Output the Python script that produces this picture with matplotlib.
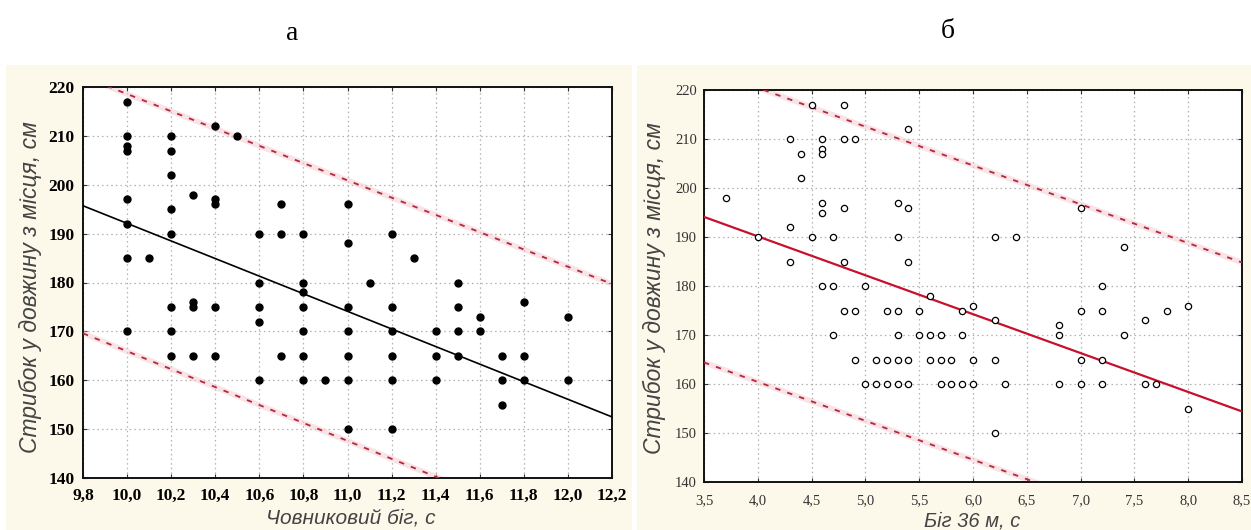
import matplotlib
matplotlib.use("Agg")
import matplotlib.pyplot as plt
from matplotlib.patches import Rectangle
from matplotlib.ticker import FuncFormatter
import numpy as np

# ---------------- data: panel а (shuttle run vs standing long jump) ----------------
shuttle_x = [10.0]*8 + [10.1] + [10.2]*8 + [10.3]*4 + [10.4]*5 + [10.5] + [10.6]*5 + \
            [10.7]*3 + [10.8]*7 + [10.9] + [11.0]*7 + [11.1] + [11.2]*6 + [11.3] + \
            [11.4]*3 + [11.5]*4 + [11.6]*2 + [11.7]*3 + [11.8]*3 + [12.0]*2
jump_a = [217, 210, 208, 207, 197, 192, 185, 170,
          185,
          210, 207, 202, 195, 190, 175, 170, 165,
          198, 176, 175, 165,
          212, 197, 196, 175, 165,
          210,
          190, 180, 175, 172, 160,
          196, 190, 165,
          190, 180, 178, 175, 170, 165, 160,
          160,
          196, 188, 175, 170, 165, 160, 150,
          180,
          190, 175, 170, 165, 160, 150,
          185,
          170, 165, 160,
          180, 175, 170, 165,
          173, 170,
          165, 160, 155,
          176, 165, 160,
          173, 160]

fit_a_x = [9.8, 12.2]
fit_a_y = [195.7, 152.5]
upper_a_y = [222.1, 179.7]
lower_a_y = [169.6, 125.6]

# ---------------- data: panel б (36 m run vs standing long jump) ----------------
run_x = [3.7, 4.0] + [4.3]*3 + [4.4]*2 + [4.5]*2 + [4.6]*6 + [4.7]*3 + [4.8]*5 + \
        [4.9]*3 + [5.0]*2 + [5.1]*2 + [5.2]*3 + [5.3]*6 + [5.4]*5 + [5.5]*2 + \
        [5.6]*3 + [5.7]*3 + [5.8]*2 + [5.9]*3 + [6.0]*3 + [6.2]*4 + [6.3] + [6.4] + \
        [6.8]*3 + [7.0]*4 + [7.2]*4 + [7.4]*2 + [7.6]*2 + [7.7] + [7.8] + [8.0]*2
jump_b = [198, 190,
          210, 192, 185,
          207, 202,
          217, 190,
          210, 208, 207, 197, 195, 180,
          190, 180, 170,
          217, 210, 196, 185, 175,
          210, 175, 165,
          180, 160,
          165, 160,
          175, 165, 160,
          197, 190, 175, 170, 165, 160,
          212, 196, 185, 165, 160,
          175, 170,
          178, 170, 165,
          170, 165, 160,
          165, 160,
          175, 170, 160,
          176, 165, 160,
          190, 173, 165, 150,
          160,
          190,
          172, 170, 160,
          196, 175, 165, 160,
          180, 175, 165, 160,
          188, 170,
          173, 160,
          160,
          175,
          176, 155]

fit_b_x = [3.5, 8.5]
fit_b_y = [194.1, 154.4]
upper_b_y = [224.4, 184.8]
lower_b_y = [164.4, 124.7]

xticks_a = [9.8, 10.0, 10.2, 10.4, 10.6, 10.8, 11.0, 11.2, 11.4, 11.6, 11.8, 12.0, 12.2]
xticks_b = [3.5, 4.0, 4.5, 5.0, 5.5, 6.0, 6.5, 7.0, 7.5, 8.0, 8.5]
yticks = [140, 150, 160, 170, 180, 190, 200, 210, 220]

ylabel_text = "Стрибок у довжину з місця, см"
xlabel_a = "Човниковий біг, с"
xlabel_b = "Біг 36 м, с"

# ---------------- figure ----------------
W, H = 1251, 530
fig = plt.figure(figsize=(W/100, H/100), dpi=100)
fig.patch.set_facecolor("white")

cream = "#fcf8ea"
fig.add_artist(Rectangle((6/W, 0), (632-6)/W, (H-65)/H, transform=fig.transFigure,
                         facecolor=cream, edgecolor="none", zorder=0))
fig.add_artist(Rectangle((637/W, 0), (W-637)/W, (H-65)/H, transform=fig.transFigure,
                         facecolor=cream, edgecolor="none", zorder=0))

fig.text(292/W, 1-33/H, "а", fontsize=20, family="Liberation Serif", ha="center", va="center")
fig.text(948/W, 1-32/H, "б", fontsize=20, family="Liberation Serif", ha="center", va="center")

def box(x0, y0, x1, y1):
    return [x0/W, 1-y1/H, (x1-x0)/W, (y1-y0)/H]

ax1 = fig.add_axes(box(83, 87, 612, 478))
ax2 = fig.add_axes(box(704, 90, 1242, 482))

comma = FuncFormatter(lambda v, p: f"{v:.1f}".replace(".", ","))
label_font = ["Liberation Sans Narrow", "Liberation Sans", "DejaVu Sans"]
red_dash = "#b4283c"

for ax, xt in ((ax1, xticks_a), (ax2, xticks_b)):
    ax.set_facecolor("white")
    ax.set_xlim(xt[0], xt[-1])
    ax.set_ylim(140, 220)
    ax.set_xticks(xt)
    ax.set_yticks(yticks)
    ax.xaxis.set_major_formatter(comma)
    ax.grid(True, color="#b0b0b0", linestyle=(0, (1.2, 2.5)), linewidth=0.9)
    ax.set_axisbelow(True)
    ax.tick_params(direction="in", top=True, right=True, length=3, width=0.8, color="#333333")
    for s in ax.spines.values():
        s.set_linewidth(1.4)
        s.set_color("#111111")

# panel а
ax1.plot(fit_a_x, upper_a_y, color="#f4c8cf", lw=4, alpha=0.5, zorder=2)
ax1.plot(fit_a_x, lower_a_y, color="#f4c8cf", lw=4, alpha=0.5, zorder=2)
ax1.plot(fit_a_x, upper_a_y, color=red_dash, lw=1.3, linestyle=(0, (3, 4)), zorder=3)
ax1.plot(fit_a_x, lower_a_y, color=red_dash, lw=1.3, linestyle=(0, (3, 4)), zorder=3)
ax1.plot(fit_a_x, fit_a_y, color="black", lw=1.2, zorder=3)
ax1.plot(shuttle_x, jump_a, linestyle="none", marker="o", markersize=5,
         color="black", zorder=4)
for lab in ax1.get_xticklabels() + ax1.get_yticklabels():
    lab.set_fontfamily("Liberation Serif")
    lab.set_fontweight("bold")
    lab.set_fontsize(12.5)
ax1.tick_params(axis="x", pad=7)
ax1.tick_params(axis="y", pad=6)

# panel б
ax2.plot(fit_b_x, upper_b_y, color="#f4c8cf", lw=4, alpha=0.5, zorder=2)
ax2.plot(fit_b_x, lower_b_y, color="#f4c8cf", lw=4, alpha=0.5, zorder=2)
ax2.plot(fit_b_x, upper_b_y, color=red_dash, lw=1.3, linestyle=(0, (3, 4)), zorder=3)
ax2.plot(fit_b_x, lower_b_y, color=red_dash, lw=1.3, linestyle=(0, (3, 4)), zorder=3)
ax2.plot(fit_b_x, fit_b_y, color="#c8102e", lw=1.6, zorder=3)
ax2.plot(run_x, jump_b, linestyle="none", marker="o", markersize=4.5,
         markerfacecolor="white", markeredgecolor="black", markeredgewidth=0.9, zorder=4)
for lab in ax2.get_xticklabels() + ax2.get_yticklabels():
    lab.set_fontfamily("Liberation Serif")
    lab.set_fontsize(10.5)
    lab.set_color("#333333")
ax2.tick_params(axis="x", pad=9)
ax2.tick_params(axis="y", pad=5)

# axis labels
fig.text(30/W, 1-287/H, ylabel_text, rotation=90, ha="center", va="center",
         fontsize=16.5, style="italic", family=label_font, color="#444444")
fig.text(654/W, 1-288/H, ylabel_text, rotation=90, ha="center", va="center",
         fontsize=16.5, style="italic", family=label_font, color="#444444")
fig.text(351/W, 1-518/H, xlabel_a, ha="center", va="center",
         fontsize=15, style="italic", family=label_font, color="#444444")
fig.text(972/W, 1-521/H, xlabel_b, ha="center", va="center",
         fontsize=14.5, style="italic", family=label_font, color="#444444")

fig.savefig("out.png", dpi=100, facecolor=fig.get_facecolor())
